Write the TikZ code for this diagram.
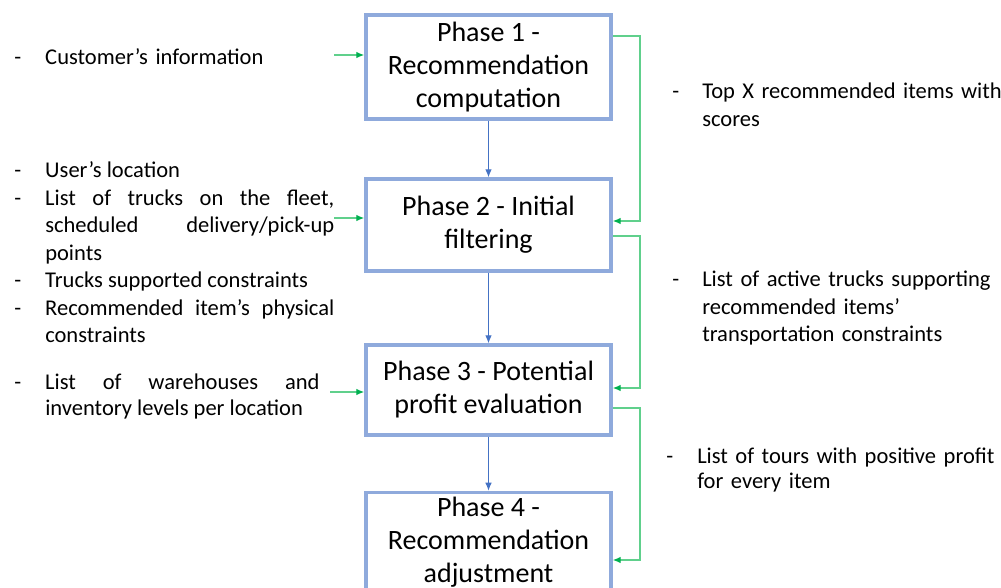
\documentclass[tikz,border=0pt]{standalone}
\usepackage{fontspec}
\setmainfont{Carlito}
\usetikzlibrary{arrows.meta,positioning}

\definecolor{boxblue}{RGB}{143,170,220}
\definecolor{linkblue}{RGB}{68,114,196}
\definecolor{feedgreen}{RGB}{96,208,140}
\definecolor{tipgreen}{RGB}{0,176,80}

% one dashed list entry, text hangs behind the dash
\newcommand{\dashitem}[2]{\hangindent=#1\hangafter=1\noindent\makebox[#1][l]{-}#2\par}

\tikzset{
  phase/.style={draw=boxblue, line width=2.6pt, minimum width=183.75pt, align=center,
    font=\fontsize{21}{24.75}\selectfont},
  sidetext/.style={anchor=base west, inner sep=0pt, text width=240pt,
    font=\fontsize{16.9}{20.6}\selectfont},
  flow/.style={draw=linkblue, line width=0.8pt, -{Latex[length=6pt,width=5pt]}},
  feed/.style={draw=feedgreen, line width=1pt, -{Latex[length=6pt,width=5pt,color=tipgreen]}}
}

\begin{document}
\begin{tikzpicture}[x=0.75pt,y=-0.75pt]
  \useasboundingbox (0,0) rectangle (1001,588);
  \clip (0,0) rectangle (1001,588);

  % phases
  \node[phase, minimum height=78pt] (p1) at (488.5,67) {Phase 1 -\\Recommendation\\computation};
  \node[phase, minimum height=69pt] (p2) at (488.5,225) {Phase 2 - Initial\\filtering};
  \node[phase, minimum height=67.5pt] (p3) at (488.5,390) {Phase 3 - Potential\\profit evaluation};
  \node[phase, minimum height=69pt] (p4) at (488.5,542) {Phase 4 -\\Recommendation\\adjustment};

  \draw[flow] (p1) -- (p2);
  \draw[flow] (p2) -- (p3);
  \draw[flow] (p3) -- (p4);

  % inputs on the left
  \node[sidetext] (in1txt) at (14,65) {\dashitem{23.25pt}{Customer’s information}};
  \node[sidetext, align=justify] (in2txt) at (14,178) {\hbadness=10000\hyphenpenalty=10000
    \dashitem{23.25pt}{User’s location}
    \dashitem{23.25pt}{List of trucks on the fleet,\linebreak scheduled delivery/pick-up\linebreak points}
    \dashitem{23.25pt}{Trucks supported constraints}
    \dashitem{23.25pt}{Recommended item’s physical\linebreak constraints}};
  \node[sidetext, align=justify, text width=229pt, font=\fontsize{16.9}{20.25}\selectfont] (in3txt) at (14,389) {\hbadness=10000\hyphenpenalty=10000
    \dashitem{23.25pt}{List of warehouses and\linebreak inventory levels\ per location}};

  \coordinate (in1) at (334,55);
  \coordinate (in2) at (334,218);
  \coordinate (in3) at (330,392);
  \draw[feed] (in1) -- (in1 -| p1.west);
  \draw[feed] (in2) -- (in2 -| p2.west);
  \draw[feed] (in3) -- (in3 -| p3.west);

  % outputs on the right
  \coordinate (rail) at (640,0);
  \draw[feed] ([yshift=23.25pt]p1.east) -- ([yshift=23.25pt]p1.east -| rail) |- ([yshift=3pt]p2.east);
  \draw[feed] ([yshift=-8.25pt]p2.east) -- ([yshift=-8.25pt]p2.east -| rail) |- ([yshift=1.5pt]p3.east);
  \draw[feed] ([yshift=-13.5pt]p3.east) -- ([yshift=-13.5pt]p3.east -| rail) |- ([yshift=-13.5pt]p4.east);

  \node[sidetext, text width=290pt, align=left] (out1txt) at (672,99)
    {\dashitem{22.5pt}{Top X recommended items with\newline scores}};
  \node[sidetext, text width=290pt, align=left] (out2txt) at (672,287)
    {\dashitem{22.5pt}{List of active trucks supporting\newline recommended items’\newline transportation constraints}};
  \node[sidetext, text width=290pt, align=left, font=\fontsize{16.9}{19.5}\selectfont] (out3txt) at (666,463)
    {\dashitem{23.25pt}{List of tours with positive profit\newline for every item}};
\end{tikzpicture}
\end{document}
